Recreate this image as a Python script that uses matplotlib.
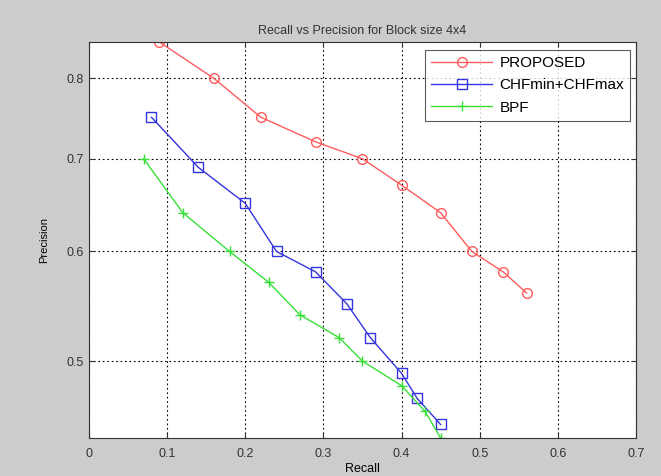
import matplotlib
matplotlib.use('Agg')
import matplotlib.pyplot as plt
from matplotlib.ticker import FixedLocator, NullLocator, FixedFormatter

plt.rcParams['font.family'] = ['Liberation Sans', 'DejaVu Sans']

proposed_recall = [0.09, 0.16, 0.22, 0.29, 0.35, 0.40, 0.45, 0.49, 0.53, 0.56]
proposed_prec = [0.85, 0.80, 0.75, 0.72, 0.70, 0.67, 0.64, 0.60, 0.58, 0.56]

chf_recall = [0.08, 0.14, 0.20, 0.24, 0.29, 0.33, 0.36, 0.40, 0.42, 0.45]
chf_prec = [0.75, 0.69, 0.65, 0.60, 0.58, 0.55, 0.52, 0.49, 0.47, 0.45]

bpf_recall = [0.07, 0.12, 0.18, 0.23, 0.27, 0.32, 0.35, 0.40, 0.43, 0.45]
bpf_prec = [0.70, 0.64, 0.60, 0.57, 0.54, 0.52, 0.50, 0.48, 0.46, 0.44]

yticks = [0.5, 0.6, 0.7, 0.8]
xticks = [0, 0.1, 0.2, 0.3, 0.4, 0.5, 0.6, 0.7]

fig = plt.figure(figsize=(6.61, 4.76), dpi=100, facecolor='#cccccc')
ax = fig.add_axes([0.1346, 0.0798, 0.8275, 0.832])

ax.plot(proposed_recall, proposed_prec, '-o', color='#ff5c5c', mfc='none', ms=7, lw=1, label='PROPOSED')
ax.plot(chf_recall, chf_prec, '-s', color='#3434e0', mfc='none', ms=7, lw=1, label='CHFmin+CHFmax')
ax.plot(bpf_recall, bpf_prec, '-+', color='#38e038', ms=7, lw=1, label='BPF')

ax.set_yscale('log')
ax.set_xlim(0, 0.7)
ax.set_ylim(0.44, 0.85)
ax.yaxis.set_major_locator(FixedLocator(yticks))
ax.yaxis.set_major_formatter(FixedFormatter([str(t) for t in yticks]))
ax.yaxis.set_minor_locator(NullLocator())
ax.set_xticks(xticks)
ax.set_xticklabels(['0' if t == 0 else str(t) for t in xticks])

ax.grid(True, color='black', linestyle=(0, (1.5, 2.5)), linewidth=0.8)
ax.tick_params(direction='in', top=True, right=True, labelsize=9, colors='#333333')
ax.tick_params(axis='x', pad=7)
for s in ax.spines.values():
    s.set_color('#333333')

ax.set_title('Recall vs Precision for Block size 4x4', fontsize=9, color='#333333')
ax.set_xlabel('Recall', fontsize=9, labelpad=2)
ax.set_ylabel('Precision', fontsize=8, labelpad=13)

leg = ax.legend(loc='upper right', bbox_to_anchor=(0.99, 0.98), borderaxespad=0,
                fontsize=11, fancybox=False, edgecolor='#333333', handlelength=4.0,
                handletextpad=0.5, labelspacing=0.55)
leg.get_frame().set_linewidth(0.8)

fig.savefig('out.png', dpi=100, facecolor=fig.get_facecolor())
